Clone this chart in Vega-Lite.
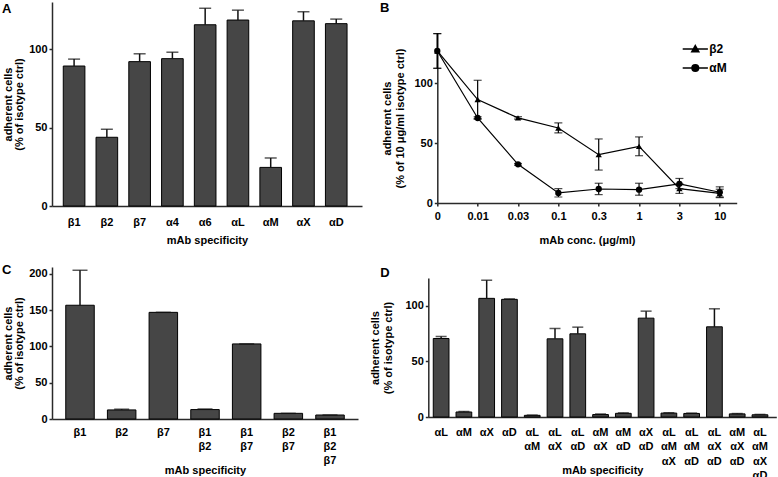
{
  "$schema": "https://vega.github.io/schema/vega-lite/v6.json",
  "background": "white",
  "padding": {"left": 2, "top": 2, "right": 0, "bottom": 0},
  "bounds": "flush",
  "columns": 2,
  "spacing": {"row": 61, "column": 66.3},
  "datasets": {
    "A": [
      {"k": "β1", "v": 89.2, "hi": 93.6},
      {"k": "β2", "v": 43.8, "hi": 48.9},
      {"k": "β7", "v": 92, "hi": 97},
      {"k": "α4", "v": 93.9, "hi": 98},
      {"k": "α6", "v": 115.5, "hi": 126},
      {"k": "αL", "v": 118.5, "hi": 124.8},
      {"k": "αM", "v": 24.6, "hi": 30.6},
      {"k": "αX", "v": 118, "hi": 123.8},
      {"k": "αD", "v": 116.2, "hi": 119.1}
    ],
    "B": [
      {"c": 0, "s": "β2", "m": 127, "lo": 112.5, "hi": 141.5},
      {"c": 0.01, "s": "β2", "m": 86.4, "lo": 70.5, "hi": 102.5},
      {"c": 0.03, "s": "β2", "m": 71.1, "lo": 70.1, "hi": 72.1},
      {"c": 0.1, "s": "β2", "m": 62.7, "lo": 58.5, "hi": 66.9},
      {"c": 0.3, "s": "β2", "m": 40.4, "lo": 27.5, "hi": 53.5},
      {"c": 1, "s": "β2", "m": 47.3, "lo": 39.5, "hi": 55.2},
      {"c": 3, "s": "β2", "m": 12, "lo": 8, "hi": 16},
      {"c": 10, "s": "β2", "m": 8, "lo": 4.5, "hi": 11.5},
      {"c": 0, "s": "αM", "m": 127, "lo": 112.5, "hi": 141.5},
      {"c": 0.01, "s": "αM", "m": 71, "lo": 70, "hi": 72},
      {"c": 0.03, "s": "αM", "m": 32.3, "lo": 31.5, "hi": 33},
      {"c": 0.1, "s": "αM", "m": 8.4, "lo": 5, "hi": 12},
      {"c": 0.3, "s": "αM", "m": 11.7, "lo": 7, "hi": 16.5},
      {"c": 1, "s": "αM", "m": 11.1, "lo": 6.5, "hi": 16.5},
      {"c": 3, "s": "αM", "m": 16, "lo": 12, "hi": 20.5},
      {"c": 10, "s": "αM", "m": 9, "lo": 5, "hi": 13.5}
    ],
    "C": [
      {"k": "β1", "v": 156.8, "hi": 205},
      {"k": "β2", "v": 12.5, "hi": 13.5},
      {"k": "β7", "v": 147, "hi": 147},
      {"k": "β1/β2", "v": 13, "hi": 13.8},
      {"k": "β1/β7", "v": 103.5, "hi": 103.5},
      {"k": "β2/β7", "v": 7.8, "hi": 7.8},
      {"k": "β1/β2/β7", "v": 5.5, "hi": 5.5}
    ],
    "D": [
      {"k": "αL", "v": 70.6, "hi": 72.4},
      {"k": "αM", "v": 4.5, "hi": 5},
      {"k": "αX", "v": 106.7, "hi": 123},
      {"k": "αD", "v": 105.8, "hi": 106.2},
      {"k": "αL/αM", "v": 1.5, "hi": 1.7},
      {"k": "αL/αX", "v": 70.3, "hi": 79.6},
      {"k": "αL/αD", "v": 74.8, "hi": 80.8},
      {"k": "αM/αX", "v": 2.2, "hi": 2.7},
      {"k": "αM/αD", "v": 3.3, "hi": 3.7},
      {"k": "αX/αD", "v": 88.9, "hi": 95.2},
      {"k": "αL/αM/αX", "v": 3.5, "hi": 3.8},
      {"k": "αL/αM/αD", "v": 3.2, "hi": 3.5},
      {"k": "αL/αX/αD", "v": 81.1, "hi": 97.3},
      {"k": "αM/αX/αD", "v": 2.8, "hi": 3.1},
      {"k": "αL/αM/αX/αD", "v": 2, "hi": 2.3}
    ]
  },
  "concat": [
    {
      "width": 310,
      "height": 204,
      "title": {"text": "A", "offset": -24, "baseline": "alphabetic", "dx": -50},
      "data": {"name": "A"},
      "encoding": {
        "x": {"field": "k", "type": "nominal", "sort": null,
          "scale": {"paddingInner": 0.34, "paddingOuter": 0.4, "align": 0.43},
          "axis": {"title": "mAb specificity", "labelAngle": 0, "ticks": false, "tickSize": 0, "labelPadding": 10, "titleY": 34, "titleBaseline": "middle"}}
      },
      "layer": [
        {"mark": {"type": "bar", "fill": "#464646", "stroke": "#000", "strokeWidth": 1},
         "encoding": {"y": {"field": "v", "type": "quantitative", "scale": {"domain": [0, 130], "nice": false},
           "axis": {"title": ["adherent cells", "(% of isotype ctrl)"], "values": [0, 50, 100], "titleX": -44, "titleBaseline": "middle", "titleLineHeight": 11}}}},
        {"mark": {"type": "rule", "color": "#111", "strokeWidth": 1.5},
         "encoding": {"y": {"field": "v", "type": "quantitative", "scale": {"domain": [0, 130], "nice": false},
           "axis": {"title": ["adherent cells", "(% of isotype ctrl)"], "values": [0, 50, 100], "titleX": -44, "titleBaseline": "middle", "titleLineHeight": 11}}, "y2": {"field": "hi"}}},
        {"mark": {"type": "tick", "color": "#111", "thickness": 1.5, "size": 12},
         "encoding": {"y": {"field": "hi", "type": "quantitative", "scale": {"domain": [0, 130], "nice": false},
           "axis": {"title": ["adherent cells", "(% of isotype ctrl)"], "values": [0, 50, 100], "titleX": -44, "titleBaseline": "middle", "titleLineHeight": 11}}}}
      ]
    },
    {
      "width": 308.4,
      "height": 201,
      "title": {"text": "B", "offset": -23, "baseline": "alphabetic", "dx": -48.3},
      "data": {"name": "B"},
      "encoding": {
        "x": {"field": "c", "type": "ordinal",
          "scale": {"type": "point", "padding": 0.21, "align": 0, "range": [9, 308.4]},
          "axis": {"title": "mAb conc. (μg/ml)", "labelAngle": 0, "ticks": true, "tickSize": 3, "labelPadding": 4, "titleY": 37.5, "titleBaseline": "middle"}}
      },
      "layer": [
        {"mark": {"type": "line", "color": "#000", "strokeWidth": 1.2},
         "encoding": {"y": {"field": "m", "type": "quantitative", "scale": {"domain": [0, 142], "range": [201, 31], "nice": false},
           "axis": {"title": ["adherent cells", "(% of 10 μg/ml isotype ctrl)"], "values": [0, 50, 100], "offset": -9, "titleX": -50, "titleBaseline": "middle", "titleLineHeight": 13}},
           "detail": {"field": "s"}}},
        {"mark": {"type": "rule", "color": "#000", "strokeWidth": 1.2},
         "encoding": {"y": {"field": "lo", "type": "quantitative", "scale": {"domain": [0, 142], "range": [201, 31], "nice": false},
           "axis": {"title": ["adherent cells", "(% of 10 μg/ml isotype ctrl)"], "values": [0, 50, 100], "offset": -9, "titleX": -50, "titleBaseline": "middle", "titleLineHeight": 13}}, "y2": {"field": "hi"}}},
        {"mark": {"type": "tick", "color": "#000", "thickness": 1.2, "size": 8},
         "encoding": {"y": {"field": "lo", "type": "quantitative", "scale": {"domain": [0, 142], "range": [201, 31], "nice": false},
           "axis": {"title": ["adherent cells", "(% of 10 μg/ml isotype ctrl)"], "values": [0, 50, 100], "offset": -9, "titleX": -50, "titleBaseline": "middle", "titleLineHeight": 13}}}},
        {"mark": {"type": "tick", "color": "#000", "thickness": 1.2, "size": 8},
         "encoding": {"y": {"field": "hi", "type": "quantitative", "scale": {"domain": [0, 142], "range": [201, 31], "nice": false},
           "axis": {"title": ["adherent cells", "(% of 10 μg/ml isotype ctrl)"], "values": [0, 50, 100], "offset": -9, "titleX": -50, "titleBaseline": "middle", "titleLineHeight": 13}}}},
        {"mark": {"type": "point", "filled": true, "color": "#000", "size": 40, "opacity": 1},
         "encoding": {"y": {"field": "m", "type": "quantitative", "scale": {"domain": [0, 142], "range": [201, 31], "nice": false},
           "axis": {"title": ["adherent cells", "(% of 10 μg/ml isotype ctrl)"], "values": [0, 50, 100], "offset": -9, "titleX": -50, "titleBaseline": "middle", "titleLineHeight": 13}},
           "shape": {"field": "s", "type": "nominal", "scale": {"domain": ["β2", "αM"], "range": ["triangle-up", "circle"]}, "legend": null}}},
        {"mark": {"type": "point", "filled": false, "color": "#000", "strokeWidth": 1.5, "opacity": 0},
         "encoding": {"y": {"field": "m", "type": "quantitative", "scale": {"domain": [0, 142], "range": [201, 31], "nice": false},
           "axis": {"title": ["adherent cells", "(% of 10 μg/ml isotype ctrl)"], "values": [0, 50, 100], "offset": -9, "titleX": -50, "titleBaseline": "middle", "titleLineHeight": 13}},
           "shape": {"field": "s", "type": "nominal",
             "scale": {"domain": ["β2", "αM"], "range": [
               "M-3.6,0L3.6,0M0,-1L1,0.75L-1,0.75ZM0,-0.45L0.5,0.4L-0.5,0.4ZM0,0L0.1,0.2L-0.1,0.2Z",
               "M-3.6,0L3.6,0M-0.95,0A0.95,0.95,0,1,0,0.95,0A0.95,0.95,0,1,0,-0.95,0ZM-0.55,0A0.55,0.55,0,1,0,0.55,0A0.55,0.55,0,1,0,-0.55,0ZM-0.2,0A0.2,0.2,0,1,0,0.2,0A0.2,0.2,0,1,0,-0.2,0Z"]},
             "legend": {"orient": "none", "legendX": 261, "legendY": 41, "title": null, "symbolSize": 49, "symbolOpacity": 1,
               "symbolStrokeColor": "#000", "symbolStrokeWidth": 1.5,
               "labelFont": "Liberation Sans", "labelFontSize": 12, "labelFontWeight": "bold", "labelColor": "#000",
               "labelOffset": 8, "rowPadding": 6, "padding": 0}}}}
      ],
      "resolve": {"scale": {"shape": "independent"}, "legend": {"shape": "independent"}}
    },
    {
      "width": 306,
      "height": 152,
      "title": {"text": "C", "offset": -20.3, "baseline": "alphabetic", "dx": -50},
      "data": {"name": "C"},
      "encoding": {
        "x": {"field": "k", "type": "nominal", "sort": null,
          "scale": {"paddingInner": 0.316, "paddingOuter": 0.33, "align": 0.5},
          "axis": {"title": "mAb specificity", "labelAngle": 0, "ticks": false, "tickSize": 0, "labelPadding": 7,
            "labelExpr": "split(datum.value, '/')", "labelLineHeight": 14.3, "titleY": 51, "titleBaseline": "middle"}}
      },
      "layer": [
        {"mark": {"type": "bar", "fill": "#464646", "stroke": "#000", "strokeWidth": 1},
         "encoding": {"y": {"field": "v", "type": "quantitative", "scale": {"domain": [0, 209.5], "nice": false},
           "axis": {"title": ["adherent cells", "(% of isotype ctrl)"], "values": [0, 50, 100, 150, 200], "titleX": -44, "titleBaseline": "middle", "titleLineHeight": 11}}}},
        {"mark": {"type": "rule", "color": "#111", "strokeWidth": 1.5},
         "encoding": {"y": {"field": "v", "type": "quantitative", "scale": {"domain": [0, 209.5], "nice": false},
           "axis": {"title": ["adherent cells", "(% of isotype ctrl)"], "values": [0, 50, 100, 150, 200], "titleX": -44, "titleBaseline": "middle", "titleLineHeight": 11}}, "y2": {"field": "hi"}}},
        {"mark": {"type": "tick", "color": "#111", "thickness": 1.5, "size": 15},
         "encoding": {"y": {"field": "hi", "type": "quantitative", "scale": {"domain": [0, 209.5], "nice": false},
           "axis": {"title": ["adherent cells", "(% of isotype ctrl)"], "values": [0, 50, 100, 150, 200], "titleX": -44, "titleBaseline": "middle", "titleLineHeight": 11}}}}
      ]
    },
    {
      "width": 348,
      "height": 150,
      "title": {"text": "D", "offset": -23.3, "baseline": "alphabetic", "dx": -48},
      "data": {"name": "D"},
      "encoding": {
        "x": {"field": "k", "type": "nominal", "sort": null,
          "scale": {"paddingInner": 0.31, "paddingOuter": 0.295, "align": 0.37},
          "axis": {"title": "mAb specificity", "labelAngle": 0, "ticks": false, "tickSize": 0, "labelPadding": 9,
            "labelExpr": "split(datum.value, '/')", "labelLineHeight": 14.6, "titleY": 53.3, "titleBaseline": "middle"}}
      },
      "layer": [
        {"mark": {"type": "bar", "fill": "#464646", "stroke": "#000", "strokeWidth": 1},
         "encoding": {"y": {"field": "v", "type": "quantitative", "scale": {"domain": [0, 125], "range": [150, 11], "nice": false},
           "axis": {"title": ["adherent cells", "(% of isotype ctrl)"], "values": [0, 50, 100], "titleX": -53, "titleBaseline": "middle", "titleLineHeight": 13}}}},
        {"mark": {"type": "rule", "color": "#111", "strokeWidth": 1.5},
         "encoding": {"y": {"field": "v", "type": "quantitative", "scale": {"domain": [0, 125], "range": [150, 11], "nice": false},
           "axis": {"title": ["adherent cells", "(% of isotype ctrl)"], "values": [0, 50, 100], "titleX": -53, "titleBaseline": "middle", "titleLineHeight": 13}}, "y2": {"field": "hi"}}},
        {"mark": {"type": "tick", "color": "#111", "thickness": 1.5, "size": 11},
         "encoding": {"y": {"field": "hi", "type": "quantitative", "scale": {"domain": [0, 125], "range": [150, 11], "nice": false},
           "axis": {"title": ["adherent cells", "(% of isotype ctrl)"], "values": [0, 50, 100], "titleX": -53, "titleBaseline": "middle", "titleLineHeight": 13}}}}
      ]
    }
  ],
  "config": {
    "font": "Liberation Sans",
    "view": {"stroke": null},
    "axis": {
      "domainColor": "#2a2a2a", "domainWidth": 1.5, "tickColor": "#2a2a2a", "tickWidth": 1.5, "tickSize": 3,
      "labelFont": "Liberation Sans", "labelFontSize": 11, "labelFontWeight": "bold", "labelColor": "#000", "labelPadding": 2,
      "titleFont": "Liberation Sans", "titleFontSize": 11, "titleFontWeight": "bold", "titleColor": "#000", "grid": false
    },
    "title": {"font": "Liberation Sans", "fontSize": 13, "fontWeight": "bold", "color": "#000", "anchor": "start", "frame": "group"}
  }
}
